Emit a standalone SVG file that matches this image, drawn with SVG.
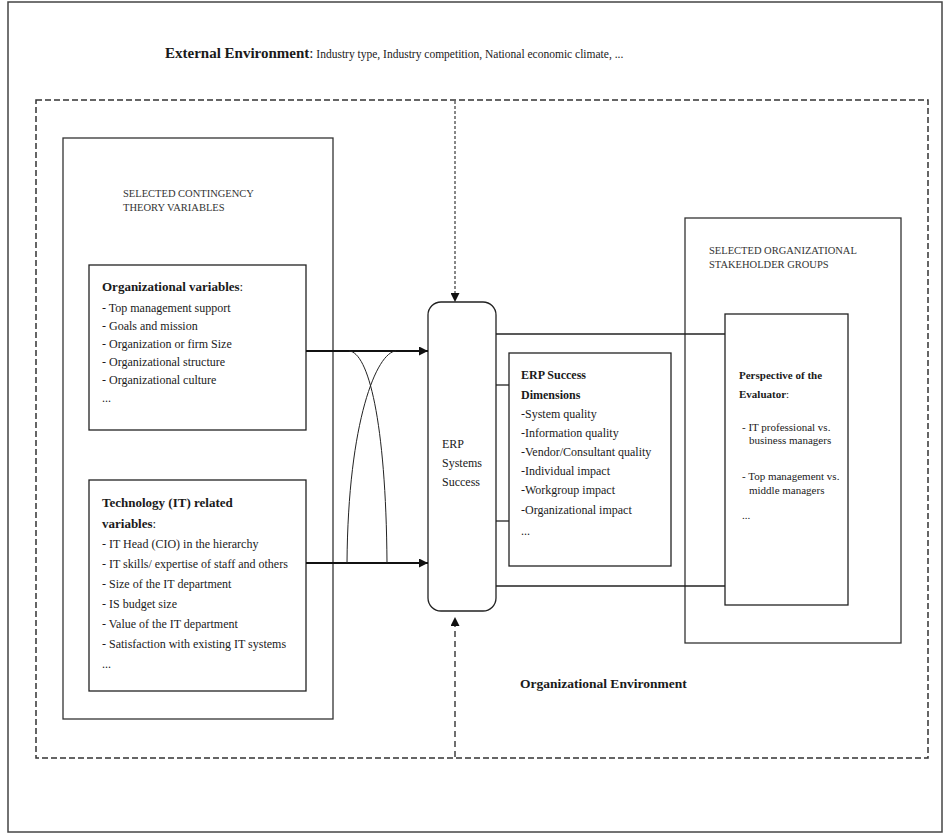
<svg xmlns="http://www.w3.org/2000/svg" width="945" height="833" viewBox="0 0 945 833">
  <defs>
    <marker id="arrowR" viewBox="0 0 10 10" refX="10" refY="5" markerWidth="10" markerHeight="9" markerUnits="userSpaceOnUse" orient="auto">
      <path d="M0,0 L10,5 L0,10 Z" fill="#111"/>
    </marker>
    <marker id="arrowV" viewBox="0 0 10 10" refX="10" refY="5" markerWidth="12" markerHeight="9" markerUnits="userSpaceOnUse" orient="auto">
      <path d="M0,0 L10,5 L0,10 Z" fill="#111"/>
    </marker>
  </defs>
  <style>
    text { font-family: "Liberation Serif", "Times New Roman", serif; fill: #1a1a1a; }
    .frame { fill: none; stroke: #444; stroke-width: 1.5; }
    .env { fill: none; stroke: #333; stroke-width: 1.5; stroke-dasharray: 6 3; }
    .panel { fill: none; stroke: #333; stroke-width: 1.3; }
    .box { fill: #fff; stroke: #222; stroke-width: 1.3; }
    .link { fill: none; stroke: #222; stroke-width: 1.3; }
    .flow { fill: none; stroke: #111; stroke-width: 2.2; }
    .curve { fill: none; stroke: #222; stroke-width: 1; }
    .dash-top { fill: none; stroke: #555; stroke-width: 1.4; stroke-dasharray: 3 2; }
    .dash-bot { fill: none; stroke: #333; stroke-width: 1.4; stroke-dasharray: 6 4; }
    .title { font-weight: bold; font-size: 13px; }
    .item { font-size: 12px; }
    .caps { font-size: 10.5px; fill: #333; }
    .small { font-size: 11px; }
  </style>

  <rect width="945" height="833" fill="#fff"/>
  <!-- page frame -->
  <rect class="frame" x="8" y="2" width="934" height="830"/>

  <!-- external environment caption -->
  <g id="external-environment">
    <text x="165" y="58"><tspan font-weight="bold" font-size="15">External Environment</tspan><tspan font-size="15">:</tspan><tspan font-size="11.5"> Industry type, Industry competition, National economic climate, ...</tspan></text>
  </g>

  <!-- organizational environment (dashed boundary) -->
  <g id="organizational-environment">
    <rect class="env" x="36" y="100" width="892" height="658"/>
    <text x="520" y="688" font-weight="bold" font-size="13.5">Organizational Environment</text>
  </g>

  <!-- contingency variables panel -->
  <g id="contingency-panel">
    <rect class="panel" x="63" y="138" width="270" height="581"/>
    <text class="caps" x="123" y="197">SELECTED CONTINGENCY</text>
    <text class="caps" x="123" y="211">THEORY VARIABLES</text>
  </g>

  <g id="organizational-variables">
    <rect class="box" x="89" y="265" width="217" height="165"/>
    <text class="title" x="102" y="291">Organizational variables<tspan font-weight="normal">:</tspan></text>
    <text class="item" x="102" y="312">- Top management support</text>
    <text class="item" x="102" y="330">- Goals and mission</text>
    <text class="item" x="102" y="348">- Organization or firm Size</text>
    <text class="item" x="102" y="366">- Organizational structure</text>
    <text class="item" x="102" y="384">- Organizational culture</text>
    <text class="item" x="102" y="402">...</text>
  </g>

  <g id="technology-variables">
    <rect class="box" x="89" y="480" width="217" height="211"/>
    <text class="title" x="102" y="507">Technology (IT) related</text>
    <text class="title" x="102" y="528">variables<tspan font-weight="normal">:</tspan></text>
    <text class="item" x="102" y="548">- IT Head (CIO) in the hierarchy</text>
    <text class="item" x="102" y="568">- IT skills/ expertise of staff and others</text>
    <text class="item" x="102" y="588">- Size of the IT department</text>
    <text class="item" x="102" y="608">- IS budget size</text>
    <text class="item" x="102" y="628">- Value of the IT department</text>
    <text class="item" x="102" y="648">- Satisfaction with existing IT systems</text>
    <text class="item" x="102" y="668">...</text>
  </g>

  <g id="erp-success">
    <rect class="box" x="428" y="302" width="68" height="309" rx="13" ry="13" stroke="#555"/>
    <text class="item" x="442" y="448" fill="#333">ERP</text>
    <text class="item" x="442" y="467" fill="#333">Systems</text>
    <text class="item" x="442" y="486" fill="#333">Success</text>
  </g>

  <g id="success-dimensions">
    <rect class="box" x="509" y="353" width="162" height="213"/>
    <text class="item" x="521" y="379" font-weight="bold">ERP Success</text>
    <text class="item" x="521" y="399" font-weight="bold">Dimensions</text>
    <text class="item" x="521" y="418">-System quality</text>
    <text class="item" x="521" y="437">-Information quality</text>
    <text class="item" x="521" y="456">-Vendor/Consultant quality</text>
    <text class="item" x="521" y="475">-Individual impact</text>
    <text class="item" x="521" y="494">-Workgroup impact</text>
    <text class="item" x="521" y="514">-Organizational impact</text>
    <text class="item" x="521" y="535">...</text>
  </g>

  <g id="stakeholder-panel">
    <rect class="panel" x="685" y="218" width="216" height="425"/>
    <text class="caps" x="709" y="254">SELECTED ORGANIZATIONAL</text>
    <text class="caps" x="709" y="268">STAKEHOLDER GROUPS</text>
  </g>

  <g id="evaluator-perspective">
    <rect class="box" x="725" y="314" width="123" height="291"/>
    <text class="small" x="739" y="379" font-weight="bold" font-size="12">Perspective of the</text>
    <text class="small" x="739" y="398" font-weight="bold" font-size="12">Evaluator<tspan font-weight="normal">:</tspan></text>
    <text class="small" x="742" y="431">- IT  professional vs.</text>
    <text class="small" x="749" y="444">business managers</text>
    <text class="small" x="742" y="480">- Top management  vs.</text>
    <text class="small" x="749" y="494">middle managers</text>
    <text class="small" x="742" y="519">...</text>
  </g>

  <!-- connectors -->
  <g id="connectors">
    <line class="flow" x1="306" y1="351" x2="428" y2="351" marker-end="url(#arrowR)"/>
    <line class="flow" x1="306" y1="563" x2="428" y2="563" marker-end="url(#arrowR)"/>
    <path class="curve" d="M349,351 C368,352 386,420 387,563"/>
    <path class="curve" d="M396,351 C377,352 348,420 347,563"/>
    <line class="link" x1="496" y1="334" x2="725" y2="334"/>
    <line class="link" x1="496" y1="586" x2="725" y2="586"/>
    <line class="link" x1="496" y1="385" x2="509" y2="385"/>
    <line class="link" x1="496" y1="521" x2="509" y2="521"/>
    <line class="dash-top" x1="455" y1="101" x2="455" y2="302" marker-end="url(#arrowV)"/>
    <line class="dash-bot" x1="455" y1="757" x2="455" y2="617" marker-end="url(#arrowV)"/>
  </g>
</svg>
